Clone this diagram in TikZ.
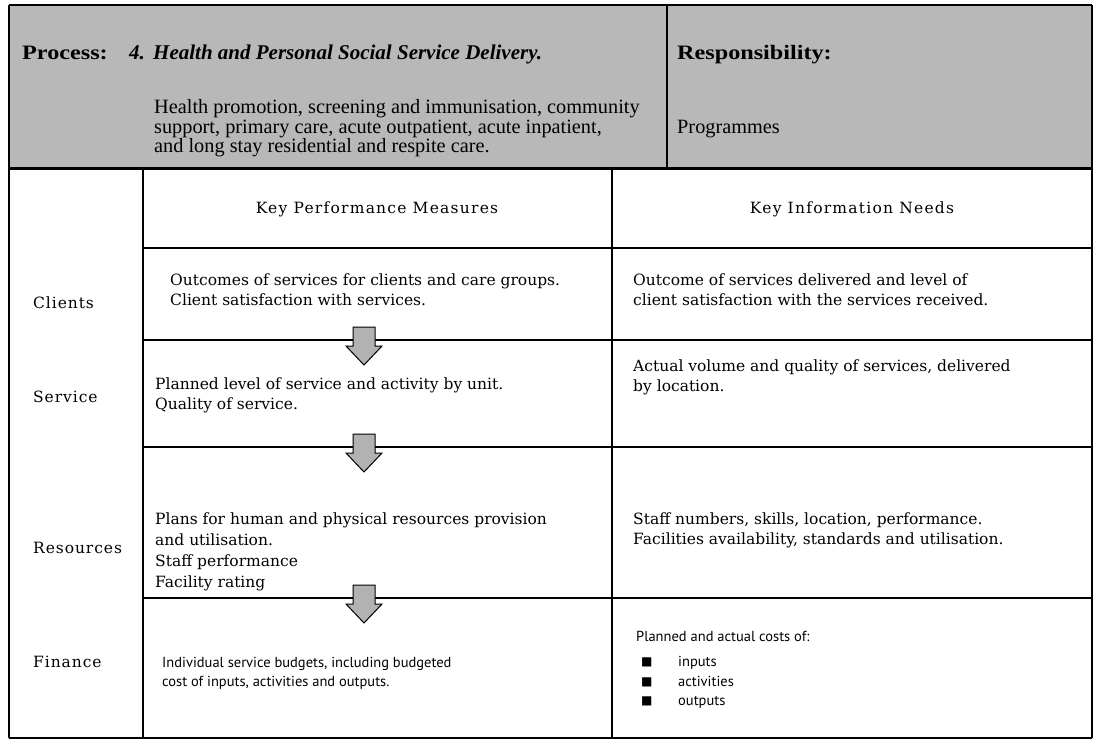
\documentclass[tikz,border=0pt]{standalone}
\usepackage{fontspec}
\setmainfont{Liberation Serif}
\newfontfamily\procfont[FakeStretch=1.18]{Liberation Serif}
\newfontfamily\tabfont{DejaVu Serif}
\newfontfamily\headfont[LetterSpace=8]{DejaVu Serif}
\newfontfamily\lblfont[LetterSpace=6]{DejaVu Serif}
\newfontfamily\finfont{PT Sans}
\newfontfamily\bulfont{DejaVu Sans}
\begin{document}
\begin{tikzpicture}[x=1pt,y=-1pt,
  lbl/.style={anchor=base west, inner sep=0pt},
  hd/.style={lbl, font=\procfont\fontsize{20.5}{24}\selectfont\bfseries},
  hdi/.style={lbl, font=\fontsize{21}{24}\selectfont\bfseries\itshape},
  hdb/.style={lbl, font=\fontsize{20.3}{20}\selectfont},
  th/.style={anchor=base, inner sep=0pt, font=\headfont\fontsize{15.5}{18}\selectfont},
  tb/.style={lbl, font=\tabfont\fontsize{15.5}{18}\selectfont},
  rl/.style={lbl, font=\lblfont\fontsize{15.5}{18}\selectfont},
  fb/.style={lbl, font=\finfont\fontsize{14.5}{18}\selectfont},
  bul/.style={lbl, font=\bulfont\fontsize{12}{14}\selectfont},
  hrule/.style={line width=1.8pt},
  vrule/.style={line width=1.1pt},
  blockarrow/.style={draw=black, line width=1pt, fill=black!30, line join=miter},
  downarrow/.pic={\draw[blockarrow] (-11,-13) -- (11,-13) -- (11,6) -- (18,6) -- (0,25) -- (-18,6) -- (-11,6) -- cycle;}
]
\useasboundingbox (0,0) rectangle (1095,740);
% frame coordinates
\coordinate (TL) at (9,5);
\coordinate (TR) at (1092,5);
\coordinate (DT) at (667,5);
\coordinate (HL) at (9,168);
\coordinate (HR) at (1092,168);
\coordinate (DB) at (667,168);
\coordinate (BL) at (9,738);
\coordinate (BR) at (1092,738);
\coordinate (C1t) at (143,168);
\coordinate (C1b) at (143,738);
\coordinate (C2t) at (612,168);
\coordinate (C2b) at (612,738);
\coordinate (R1l) at (143,248);
\coordinate (R1r) at (1092,248);
\coordinate (R2l) at (143,340);
\coordinate (R2r) at (1092,340);
\coordinate (R3l) at (143,447);
\coordinate (R3r) at (1092,447);
\coordinate (R4l) at (143,598);
\coordinate (R4r) at (1092,598);

% header box
\fill[black!28] (TL) rectangle (HR);
\draw[line width=1.8pt] (TL) -- (TR);
\draw[line width=3pt] (HL) -- (HR);
\draw[line width=1.5pt] (DT) -- (DB);
\draw[vrule] (TL) -- (BL);
\draw[vrule] (TR) -- (BR);

% table lines
\draw[vrule] (C1t) -- (C1b);
\draw[vrule] (C2t) -- (C2b);
\draw[hrule] (R1l) -- (R1r);
\draw[hrule] (R2l) -- (R2r);
\draw[hrule] (R3l) -- (R3r);
\draw[hrule] (R4l) -- (R4r);
\draw[vrule] (BL) -- (BR);

% arrows
\pic (a1) at (364,340) {downarrow};
\pic (a2) at (364,447) {downarrow};
\pic (a3) at (364,598) {downarrow};

% header text
\node[hd] (proc) at (22,59) {Process:};
\node[hdi] (num) at (129,59) {4.};
\node[hdi] (title) at (153,59) {Health and Personal Social Service Delivery.};
\node[hdb] (hb1) at (154,113) {Health promotion, screening and immunisation, community};
\node[hdb] (hb2) at (154,133) {support, primary care, acute outpatient, acute inpatient,};
\node[hdb] (hb3) at (154,152) {and long stay residential and respite care.};
\node[hd] (resp) at (677,59) {Responsibility:};
\node[hdb] (prog) at (677,133) {Programmes};

% column headings
\node[th] (kpm) at (377,213) {Key Performance Measures};
\node[th] (kin) at (852,213) {Key Information Needs};

% row labels
\node[rl] (lcl) at (33,308) {Clients};
\node[rl] (lse) at (33,402) {Service};
\node[rl] (lre) at (33,553) {Resources};
\node[rl] (lfi) at (33,667) {Finance};

% clients row
\node[tb] (c1) at (170,285) {Outcomes of services for clients and care groups.};
\node[tb] (c2) at (170,305) {Client satisfaction with services.};
\node[tb] (c3) at (633,285) {Outcome of services delivered and level of};
\node[tb] (c4) at (633,305) {client satisfaction with the services received.};

% service row
\node[tb] (s1) at (155,389) {Planned level of service and activity by unit.};
\node[tb] (s2) at (155,409) {Quality of service.};
\node[tb] (s3) at (633,371) {Actual volume and quality of services, delivered};
\node[tb] (s4) at (633,391) {by location.};

% resources row
\node[tb] (r1) at (155,524) {Plans for human and physical resources provision};
\node[tb] (r2) at (155,545) {and utilisation.};
\node[tb] (r3) at (155,566) {Staff performance};
\node[tb] (r4) at (155,587) {Facility rating};
\node[tb] (r5) at (633,524) {Staff numbers, skills, location, performance.};
\node[tb] (r6) at (633,544) {Facilities availability, standards and utilisation.};

% finance row
\node[fb] (f1) at (162,667) {Individual service budgets, including budgeted};
\node[fb] (f2) at (162,686) {cost of inputs, activities and outputs.};
\node[fb] (f3) at (636,641) {Planned and actual costs of:};
\node[bul] (b1) at (641,665) {■};
\node[bul] (b2) at (641,685) {■};
\node[bul] (b3) at (641,704) {■};
\node[fb] (f4) at (678,666) {inputs};
\node[fb] (f5) at (678,686) {activities};
\node[fb] (f6) at (678,705) {outputs};
\end{tikzpicture}
\end{document}
